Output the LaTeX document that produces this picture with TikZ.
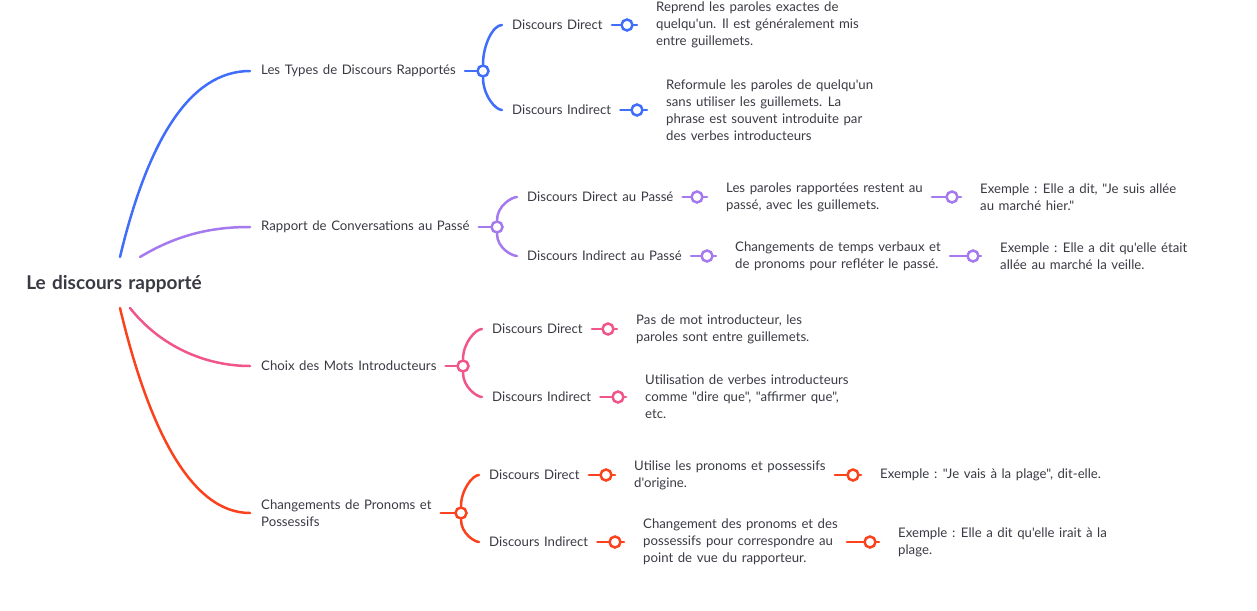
\documentclass[tikz,border=0pt]{standalone}
\usepackage{fontspec}
\setmainfont{Lato}[Ligatures=TeXOff,WordSpace=1.35]
\usepackage{tikz}
\usetikzlibrary{calc}

\definecolor{ink}{RGB}{58,58,68}
\definecolor{cblue}{RGB}{64,110,250}
\definecolor{cpurple}{RGB}{164,122,238}
\definecolor{cpink}{RGB}{240,86,138}
\definecolor{cred}{RGB}{250,66,28}

\begin{document}
\begin{tikzpicture}[x=1pt,y=1pt,
    txt/.style={anchor=west,inner sep=0pt,align=left,text=ink,
      font=\fontsize{13.2}{17}\selectfont},
    dot/.style={circle,draw=#1,fill=white,line width=2.5pt,minimum size=11pt,inner sep=0pt},
    br/.style={line width=2.5pt,line cap=round},
    lft/.style={br,shorten <=9pt},
    rgt/.style={br,shorten >=19pt}]
    \useasboundingbox (0,0) rectangle (1257,-610);% page size of the reference
    \node[anchor=center,inner sep=0pt,text=ink,font=\fontsize{19}{22}\selectfont\bfseries]
      (root) at (114,-284) {Le discours rapport\'e};
    % first level
    \node[txt] (types) at (261,-71) {Les Types de Discours Rapport\'es};
    \node[txt] (conv) at (261,-227) {Rapport de Conversations au Pass\'e};
    \node[txt] (choix) at (261,-366) {Choix des Mots Introducteurs};
    \node[txt] (pron) at (261,-513) {Changements de Pronoms et\\Possessifs};
    \draw [br,cblue,shorten >=11pt] (120,-257) .. controls (148,-140) and (190,-71) .. (types);
    \draw [br,cpurple,shorten >=11pt] (140,-257) .. controls (180,-233) and (215,-227) .. (conv);
    \draw [br,cpink,shorten >=11pt] (130,-308) .. controls (160,-346) and (205,-366) .. (choix);
    \draw [br,cred,shorten >=11pt] (120,-308) .. controls (148,-426) and (190,-513) .. (pron);

    % Les Types de Discours Rapportes
    \node[dot=cblue] (dtypes) at (483,-71) {};
    \node[txt] (typesD) at (512,-25) {Discours Direct};
    \node[txt] (typesI) at (512,-110) {Discours Indirect};
    \node[dot=cblue] (dtypesD) at (627,-25) {};
    \node[dot=cblue] (dtypesI) at (637,-110) {};
    \node[txt] (typesDt) at (656,-25) {Reprend les paroles exactes de\\quelqu'un. Il est g\'en\'eralement mis\\entre guillemets.};
    \node[txt] (typesIt) at (666,-110) {Reformule les paroles de quelqu'un\\sans utiliser les guillemets. La\\phrase est souvent introduite par\\des verbes introducteurs};
    \draw [lft,cblue] (types) -- (dtypes);
    \draw [br,cblue,shorten >=10pt] (dtypes) to[out=90,in=180] (typesD);
    \draw [br,cblue,shorten >=10pt] (dtypes) to[out=-90,in=180] (typesI);
    \draw [lft,cblue] (typesD) -- (dtypesD);
    \draw [rgt,cblue] (dtypesD) -- (typesDt);
    \draw [lft,cblue] (typesI) -- (dtypesI);
    \draw [rgt,cblue] (dtypesI) -- (typesIt);

    % Rapport de Conversations au Passe
    \node[dot=cpurple] (dconv) at (497,-227) {};
    \node[txt] (convD) at (527,-197) {Discours Direct au Pass\'e};
    \node[txt] (convI) at (527,-256) {Discours Indirect au Pass\'e};
    \node[dot=cpurple] (dconvD) at (697,-197) {};
    \node[dot=cpurple] (dconvI) at (707,-256) {};
    \node[txt] (convDt) at (726,-197) {Les paroles rapport\'ees restent au\\pass\'e, avec les guillemets.};
    \node[txt] (convIt) at (735,-256) {Changements de temps verbaux et\\de pronoms pour refl\'eter le pass\'e.};
    \node[dot=cpurple] (dconvDt) at (952,-197) {};
    \node[dot=cpurple] (dconvIt) at (973,-256) {};
    \node[txt] (convDe) at (980,-197) {Exemple : Elle a dit, "Je suis all\'ee\\au march\'e hier."};
    \node[txt] (convIe) at (1000,-256) {Exemple : Elle a dit qu'elle \'etait\\all\'ee au march\'e la veille.};
    \draw [lft,cpurple] (conv) -- (dconv);
    \draw [br,cpurple,shorten >=10pt] (dconv) to[out=90,in=180] (convD);
    \draw [br,cpurple,shorten >=10pt] (dconv) to[out=-90,in=180] (convI);
    \draw [lft,cpurple] (convD) -- (dconvD);
    \draw [rgt,cpurple] (dconvD) -- (convDt);
    \draw [lft,cpurple] (convI) -- (dconvI);
    \draw [rgt,cpurple] (dconvI) -- (convIt);
    \draw [lft,cpurple] (convDt) -- (dconvDt);
    \draw [rgt,cpurple] (dconvDt) -- (convDe);
    \draw [lft,cpurple] (convIt) -- (dconvIt);
    \draw [rgt,cpurple] (dconvIt) -- (convIe);

    % Choix des Mots Introducteurs
    \node[dot=cpink] (dchoix) at (463,-366) {};
    \node[txt] (choixD) at (492,-329) {Discours Direct};
    \node[txt] (choixI) at (492,-397) {Discours Indirect};
    \node[dot=cpink] (dchoixD) at (608,-329) {};
    \node[dot=cpink] (dchoixI) at (618,-397) {};
    \node[txt] (choixDt) at (636,-329) {Pas de mot introducteur, les\\paroles sont entre guillemets.};
    \node[txt] (choixIt) at (645,-397) {Utilisation de verbes introducteurs\\comme "dire que", "affirmer que",\\etc.};
    \draw [lft,cpink] (choix) -- (dchoix);
    \draw [br,cpink,shorten >=10pt] (dchoix) to[out=90,in=180] (choixD);
    \draw [br,cpink,shorten >=10pt] (dchoix) to[out=-90,in=180] (choixI);
    \draw [lft,cpink] (choixD) -- (dchoixD);
    \draw [rgt,cpink] (dchoixD) -- (choixDt);
    \draw [lft,cpink] (choixI) -- (dchoixI);
    \draw [rgt,cpink] (dchoixI) -- (choixIt);

    % Changements de Pronoms et Possessifs
    \node[dot=cred] (dpron) at (461,-513) {};
    \node[txt] (pronD) at (489,-475) {Discours Direct};
    \node[txt] (pronI) at (489,-542) {Discours Indirect};
    \node[dot=cred] (dpronD) at (606,-475) {};
    \node[dot=cred] (dpronI) at (615,-542) {};
    \node[txt] (pronDt) at (634,-475) {Utilise les pronoms et possessifs\\d'origine.};
    \node[txt] (pronIt) at (643,-542) {Changement des pronoms et des\\possessifs pour correspondre au\\point de vue du rapporteur.};
    \node[dot=cred] (dpronDt) at (853,-475) {};
    \node[dot=cred] (dpronIt) at (870,-542) {};
    \node[txt] (pronDe) at (880,-475) {Exemple : "Je vais \`a la plage", dit-elle.};
    \node[txt] (pronIe) at (898,-542) {Exemple : Elle a dit qu'elle irait \`a la\\plage.};
    \draw [lft,cred] (pron) -- (dpron);
    \draw [br,cred,shorten >=10pt] (dpron) to[out=90,in=180] (pronD);
    \draw [br,cred,shorten >=10pt] (dpron) to[out=-90,in=180] (pronI);
    \draw [lft,cred] (pronD) -- (dpronD);
    \draw [rgt,cred] (dpronD) -- (pronDt);
    \draw [lft,cred] (pronI) -- (dpronI);
    \draw [rgt,cred] (dpronI) -- (pronIt);
    \draw [lft,cred] (pronDt) -- (dpronDt);
    \draw [rgt,cred] (dpronDt) -- (pronDe);
    \draw [lft,cred] (pronIt) -- (dpronIt);
    \draw [rgt,cred] (dpronIt) -- (pronIe);
\end{tikzpicture}
\end{document}
